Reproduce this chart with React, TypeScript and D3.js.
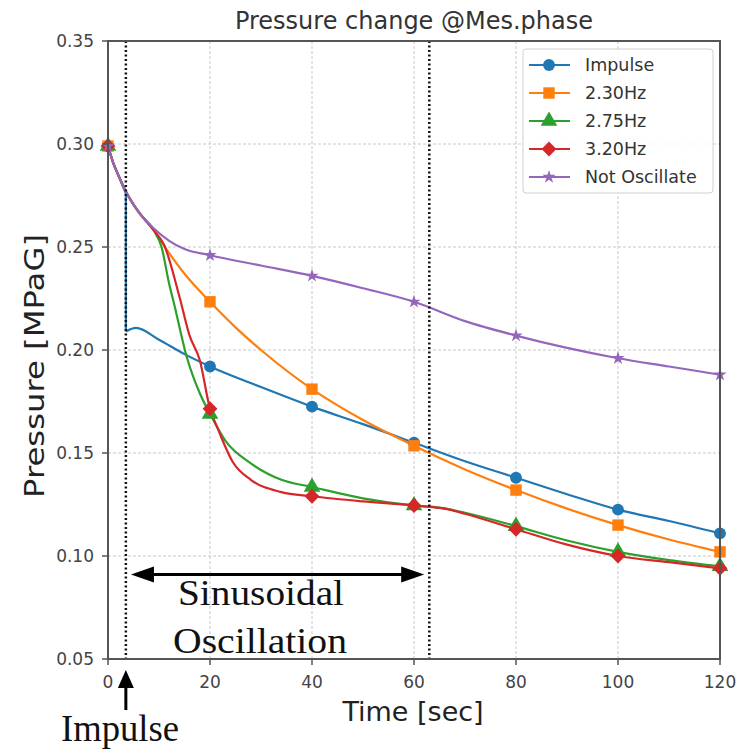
import { useRef, useEffect } from 'react';
import * as d3 from 'd3';

const seriesNames = ['Impulse', '2.30Hz', '2.75Hz', '3.20Hz', 'Not Oscillate'];
const seriesColors = ['#1f77b4', '#ff7f0e', '#2ca02c', '#d62728', '#9467bd'];

const impulseT = [0, 1, 2, 3.5, 3.5, 5.5, 10, 15, 20, 30, 40, 50, 60, 70, 80, 90, 100, 110, 120];
const impulseP = [0.299, 0.291, 0.285, 0.276, 0.209, 0.2107, 0.205, 0.198, 0.192, 0.182, 0.1725, 0.164, 0.155, 0.146, 0.138, 0.13, 0.1225, 0.117, 0.111];

const hz230T = [0, 1, 2, 3.5, 6, 9, 12, 15, 20, 25, 30, 40, 50, 60, 70, 80, 90, 100, 110, 120];
const hz230P = [0.299, 0.291, 0.285, 0.277, 0.267, 0.258, 0.247, 0.237, 0.2234, 0.211, 0.2, 0.181, 0.166, 0.1535, 0.142, 0.132, 0.123, 0.115, 0.108, 0.102];

const hz275T = [0, 1, 2, 3.5, 6, 9, 10.5, 12, 13, 15.4, 18, 20, 23, 28, 34, 40, 50, 60, 65, 70, 80, 90, 100, 110, 120];
const hz275P = [0.299, 0.291, 0.285, 0.277, 0.267, 0.258, 0.25, 0.232, 0.222, 0.197, 0.179, 0.169, 0.156, 0.145, 0.137, 0.1335, 0.128, 0.1245, 0.1235, 0.121, 0.1145, 0.1075, 0.102, 0.098, 0.095];

const hz320T = [0, 1, 2, 3.5, 6, 9, 11, 14, 16, 18, 20, 21.5, 24.5, 28, 34, 40, 50, 60, 67, 70, 80, 90, 100, 110, 120];
const hz320P = [0.299, 0.291, 0.285, 0.277, 0.267, 0.258, 0.251, 0.226, 0.207, 0.195, 0.1715, 0.162, 0.1455, 0.137, 0.131, 0.129, 0.1265, 0.1245, 0.1225, 0.1205, 0.113, 0.1055, 0.1, 0.097, 0.094];

const notOscT = [0, 1, 2, 3.5, 6, 9, 12, 15, 20, 30, 40, 50, 60, 70, 80, 90, 100, 110, 120];
const notOscP = [0.299, 0.291, 0.285, 0.277, 0.267, 0.259, 0.253, 0.249, 0.246, 0.241, 0.236, 0.23, 0.2234, 0.214, 0.207, 0.201, 0.196, 0.192, 0.188];

const xTicks = [0, 20, 40, 60, 80, 100, 120];
const yTicks = [0.05, 0.1, 0.15, 0.2, 0.25, 0.3, 0.35];

const impulseTime = 3.5;
const oscEndTime = 63;
const arrowFrom = 4.5;
const arrowTo = 62;
const arrowLevel = 0.091;

export default function App() {
  const ref = useRef<SVGSVGElement>(null);

  useEffect(() => {
    const svg = d3.select(ref.current);
    svg.selectAll('*').remove();

    const x = d3.scaleLinear().domain([0, 120]).range([108, 720]);
    const y = d3.scaleLinear().domain([0.05, 0.35]).range([659, 41]);
    const sans = 'DejaVu Sans, sans-serif';
    const serif = 'Liberation Serif, Times New Roman, serif';

    const series = [
      { t: impulseT, p: impulseP, sym: d3.symbolCircle, size: 110, rot: 0 },
      { t: hz230T, p: hz230P, sym: d3.symbolSquare, size: 130, rot: 0 },
      { t: hz275T, p: hz275P, sym: d3.symbolTriangle, size: 120, rot: 0 },
      { t: hz320T, p: hz320P, sym: d3.symbolSquare, size: 110, rot: 45 },
      { t: notOscT, p: notOscP, sym: d3.symbolStar, size: 55, rot: 0 },
    ];

    // grid
    const grid = svg.append('g');
    xTicks.forEach(t => {
      grid.append('line').attr('x1', x(t)).attr('x2', x(t)).attr('y1', 41).attr('y2', 659)
        .attr('stroke', '#c8c8c8').attr('stroke-width', 1).attr('stroke-dasharray', '3,2');
    });
    yTicks.forEach(v => {
      grid.append('line').attr('x1', 108).attr('x2', 720).attr('y1', y(v)).attr('y2', y(v))
        .attr('stroke', '#c8c8c8').attr('stroke-width', 1).attr('stroke-dasharray', '3,2');
    });

    // lines
    const line = d3.line<[number, number]>().x(d => x(d[0])).y(d => y(d[1])).curve(d3.curveMonotoneX);
    series.forEach((s, i) => {
      const pts: [number, number][] = s.t.map((t, k) => [t, s.p[k]]);
      // split where time repeats (sudden drop)
      const segs: [number, number][][] = [[]];
      pts.forEach((p, k) => {
        if (k > 0 && p[0] === pts[k - 1][0]) segs.push([]);
        segs[segs.length - 1].push(p);
      });
      segs.forEach((seg, k) => {
        svg.append('path').attr('d', line(seg)).attr('fill', 'none')
          .attr('stroke', seriesColors[i]).attr('stroke-width', 2.2);
        if (k > 0) {
          const prev = segs[k - 1][segs[k - 1].length - 1];
          svg.append('line').attr('x1', x(prev[0])).attr('y1', y(prev[1]))
            .attr('x2', x(seg[0][0])).attr('y2', y(seg[0][1]))
            .attr('stroke', seriesColors[i]).attr('stroke-width', 2.2);
        }
      });
    });
    // markers every 20 s
    series.forEach((s, i) => {
      s.t.forEach((t, k) => {
        if (t % 20 !== 0) return;
        svg.append('path').attr('d', d3.symbol(s.sym, s.size)())
          .attr('transform', `translate(${x(t)},${y(s.p[k])}) rotate(${s.rot})`)
          .attr('fill', seriesColors[i]);
      });
    });

    // annotation: dotted vertical lines
    [impulseTime, oscEndTime].forEach(t => {
      svg.append('line').attr('x1', x(t)).attr('x2', x(t)).attr('y1', 41).attr('y2', 659)
        .attr('stroke', '#111').attr('stroke-width', 2.5).attr('stroke-dasharray', '2,2.5');
    });

    // frame
    svg.append('rect').attr('x', 108).attr('y', 41).attr('width', 612).attr('height', 618)
      .attr('fill', 'none').attr('stroke', '#555').attr('stroke-width', 2);

    // ticks
    xTicks.forEach(t => {
      svg.append('line').attr('x1', x(t)).attr('x2', x(t)).attr('y1', 659).attr('y2', 665)
        .attr('stroke', '#555').attr('stroke-width', 1.5);
      svg.append('text').attr('x', x(t)).attr('y', 688).attr('text-anchor', 'middle')
        .attr('font-family', sans).attr('font-size', 17).attr('fill', '#444').text(String(t));
    });
    yTicks.forEach(v => {
      svg.append('line').attr('x1', 102).attr('x2', 108).attr('y1', y(v)).attr('y2', y(v))
        .attr('stroke', '#555').attr('stroke-width', 1.5);
      svg.append('text').attr('x', 94).attr('y', y(v) + 6).attr('text-anchor', 'end')
        .attr('font-family', sans).attr('font-size', 17).attr('fill', '#444').text(v.toFixed(2));
    });

    // titles
    svg.append('text').attr('x', 414).attr('y', 29).attr('text-anchor', 'middle')
      .attr('font-family', sans).attr('font-size', 24).attr('fill', '#333')
      .text('Pressure change @Mes.phase');
    svg.append('text').attr('x', 413).attr('y', 721).attr('text-anchor', 'middle')
      .attr('font-family', sans).attr('font-size', 27).attr('fill', '#222').text('Time [sec]');
    svg.append('text').attr('transform', 'translate(44,366) rotate(-90)').attr('text-anchor', 'middle')
      .attr('font-family', sans).attr('font-size', 27).attr('fill', '#222')
      .attr('textLength', 264).attr('lengthAdjust', 'spacingAndGlyphs').text('Pressure [MPaG]');

    // double arrow for oscillation span
    const ay = y(arrowLevel);
    const ax0 = x(arrowFrom), ax1 = x(arrowTo);
    svg.append('line').attr('x1', ax0 + 10).attr('x2', ax1 - 10).attr('y1', ay).attr('y2', ay)
      .attr('stroke', '#000').attr('stroke-width', 3);
    svg.append('path').attr('d', `M${ax0},${ay} L${ax0 + 23},${ay - 8} L${ax0 + 23},${ay + 8} Z`).attr('fill', '#000');
    svg.append('path').attr('d', `M${ax1},${ay} L${ax1 - 23},${ay - 8} L${ax1 - 23},${ay + 8} Z`).attr('fill', '#000');
    svg.append('text').attr('x', 261).attr('y', 605).attr('text-anchor', 'middle')
      .attr('font-family', serif).attr('font-size', 35).attr('fill', '#111')
      .attr('textLength', 166).attr('lengthAdjust', 'spacingAndGlyphs').text('Sinusoidal');
    svg.append('text').attr('x', 260).attr('y', 653).attr('text-anchor', 'middle')
      .attr('font-family', serif).attr('font-size', 35).attr('fill', '#111')
      .attr('textLength', 174).attr('lengthAdjust', 'spacingAndGlyphs').text('Oscillation');

    // impulse arrow below axis
    const ix = x(impulseTime);
    svg.append('line').attr('x1', ix).attr('x2', ix).attr('y1', 710).attr('y2', 684)
      .attr('stroke', '#000').attr('stroke-width', 3);
    svg.append('path').attr('d', `M${ix},670 L${ix - 8},688 L${ix + 8},688 Z`).attr('fill', '#000');
    svg.append('text').attr('x', 120).attr('y', 741).attr('text-anchor', 'middle')
      .attr('font-family', serif).attr('font-size', 37).attr('fill', '#111')
      .attr('textLength', 118).attr('lengthAdjust', 'spacingAndGlyphs').text('Impulse');

    // legend
    const lg = svg.append('g');
    lg.append('rect').attr('x', 523).attr('y', 49).attr('width', 190).attr('height', 144).attr('rx', 3)
      .attr('fill', 'white').attr('fill-opacity', 0.85).attr('stroke', '#d0d0d0');
    seriesNames.forEach((name, i) => {
      const ly = 65 + i * 28;
      lg.append('line').attr('x1', 529).attr('x2', 570).attr('y1', ly).attr('y2', ly)
        .attr('stroke', seriesColors[i]).attr('stroke-width', 2.2);
      lg.append('path').attr('d', d3.symbol(series[i].sym, series[i].size)())
        .attr('transform', `translate(549,${ly}) rotate(${series[i].rot})`).attr('fill', seriesColors[i]);
      lg.append('text').attr('x', 585).attr('y', ly + 6).attr('font-family', sans).attr('font-size', 17.5)
        .attr('fill', '#333').text(name);
    });
  }, []);

  return (
    <svg ref={ref} width={740} height={749} style={{ position: 'absolute', left: 0, top: 0, background: 'white' }} />
  );
}
